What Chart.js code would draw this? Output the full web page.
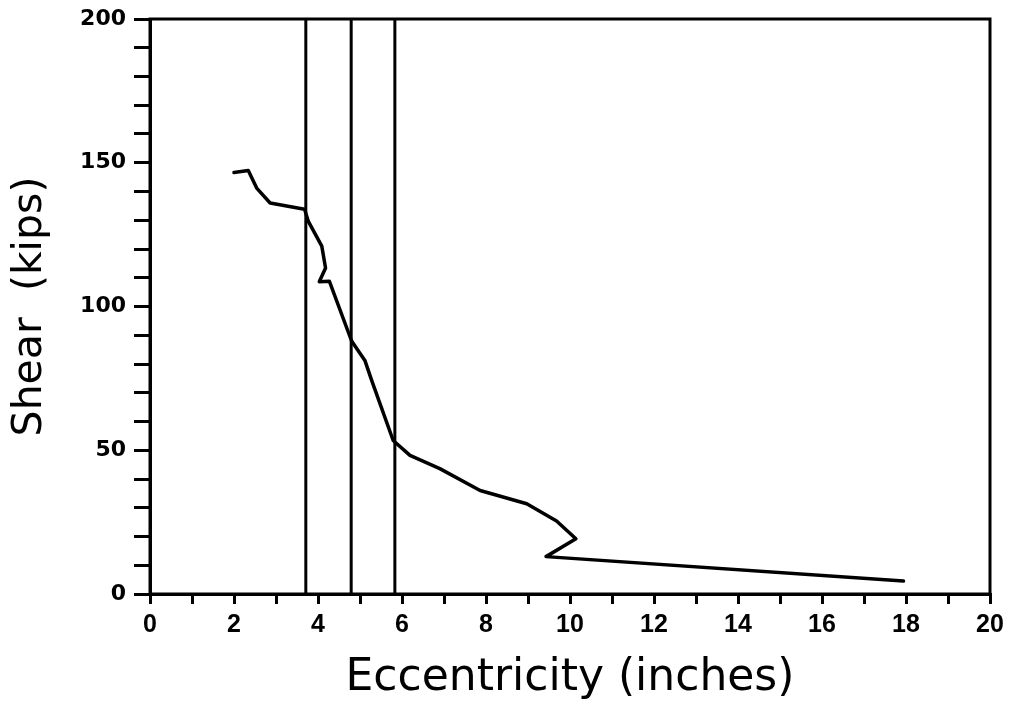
<!DOCTYPE html>
<html>
<head>
<meta charset="utf-8">
<script src="https://cdn.jsdelivr.net/npm/chart.js@4/dist/chart.umd.min.js"></script>
<style>
html,body{margin:0;padding:0;background:#fff;}
#wrap{width:1013px;height:705px;position:relative;}
</style>
</head>
<body>
<div id="wrap"><canvas id="c" width="1013" height="705"></canvas></div>
<script>
// Data
const eccentricity = [2.0, 2.34, 2.54, 2.86, 3.68, 3.77, 4.09, 4.18, 4.03, 4.27, 4.80, 5.12, 5.28, 5.79, 6.19, 6.90, 7.86, 8.97, 9.68, 10.14, 9.43, 17.94];
const shear = [146.6, 147.3, 141.2, 136.0, 133.8, 129.6, 121.0, 113.4, 108.6, 108.8, 88.0, 81.1, 74.2, 53.4, 48.2, 43.6, 36.0, 31.4, 25.4, 19.2, 13.0, 4.5];
const verticalLinesX = [3.71, 4.79, 5.83];
const xLimits = [0, 20];
const yLimits = [0, 200];
const xLabelStep = 2;
const yLabelStep = 50;
const xTitle = 'Eccentricity (inches)';
const yTitle = 'Shear  (kips)';

const curve = eccentricity.map((x, i) => ({x: x, y: shear[i]}));
const datasets = [{
  data: curve, showLine: true, borderColor: '#000', borderWidth: 3.5,
  pointRadius: 0, fill: false, tension: 0, borderJoinStyle: 'round', borderCapStyle: 'round'
}];
verticalLinesX.forEach(v => {
  datasets.push({
    data: [{x: v, y: yLimits[0]}, {x: v, y: yLimits[1]}], showLine: true,
    borderColor: '#000', borderWidth: 3, pointRadius: 0, fill: false
  });
});

const frame = {
  id: 'frame',
  afterDatasetsDraw(chart) {
    const a = chart.chartArea, ctx = chart.ctx;
    ctx.save();
    ctx.strokeStyle = '#000';
    ctx.lineWidth = 3;
    ctx.strokeRect(a.left, a.top, a.right - a.left, a.bottom - a.top);
    ctx.restore();
  }
};

new Chart(document.getElementById('c'), {
  type: 'scatter',
  data: {datasets: datasets},
  options: {
    responsive: false,
    animation: false,
    layout: {padding: {left: 0, top: 13, right: 23, bottom: 0}},
    plugins: {legend: {display: false}, tooltip: {enabled: false}},
    scales: {
      x: {
        type: 'linear', min: xLimits[0], max: xLimits[1],
        afterFit(s) { s.height = 705 - 594; },
        border: {display: true, color: '#000', width: 3},
        grid: {drawOnChartArea: false, drawTicks: true, tickLength: 10, color: '#000', lineWidth: 3},
        ticks: {
          stepSize: 1, autoSkip: false, maxRotation: 0, color: '#000', padding: 6,
          font: {family: "'Liberation Sans', Arial, sans-serif", size: 25, weight: 'bold'},
          callback: v => (Math.round(v) % xLabelStep === 0 ? String(v) : '')
        },
        title: {
          display: true, text: xTitle, color: '#000', padding: {top: 12, bottom: 0},
          font: {family: "'DejaVu Sans', sans-serif", size: 44, weight: 'normal'}
        }
      },
      y: {
        type: 'linear', min: yLimits[0], max: yLimits[1],
        afterFit(s) { s.width = 150; },
        border: {display: true, color: '#000', width: 3},
        grid: {drawOnChartArea: false, drawTicks: true, tickLength: 16, color: '#000', lineWidth: 3},
        ticks: {
          stepSize: 10, autoSkip: false, color: '#000', padding: 8,
          font: {family: "'DejaVu Sans', sans-serif", size: 22, weight: 'bold', lineHeight: 1},
          callback: v => (Math.round(v) % yLabelStep === 0 ? String(v) : '')
        },
        title: {
          display: true, text: yTitle, color: '#000', padding: {top: 6, bottom: 0},
          font: {family: "'DejaVu Sans', sans-serif", size: 41, weight: 'normal'}
        }
      }
    }
  },
  plugins: [frame]
});
</script>
</body>
</html>
